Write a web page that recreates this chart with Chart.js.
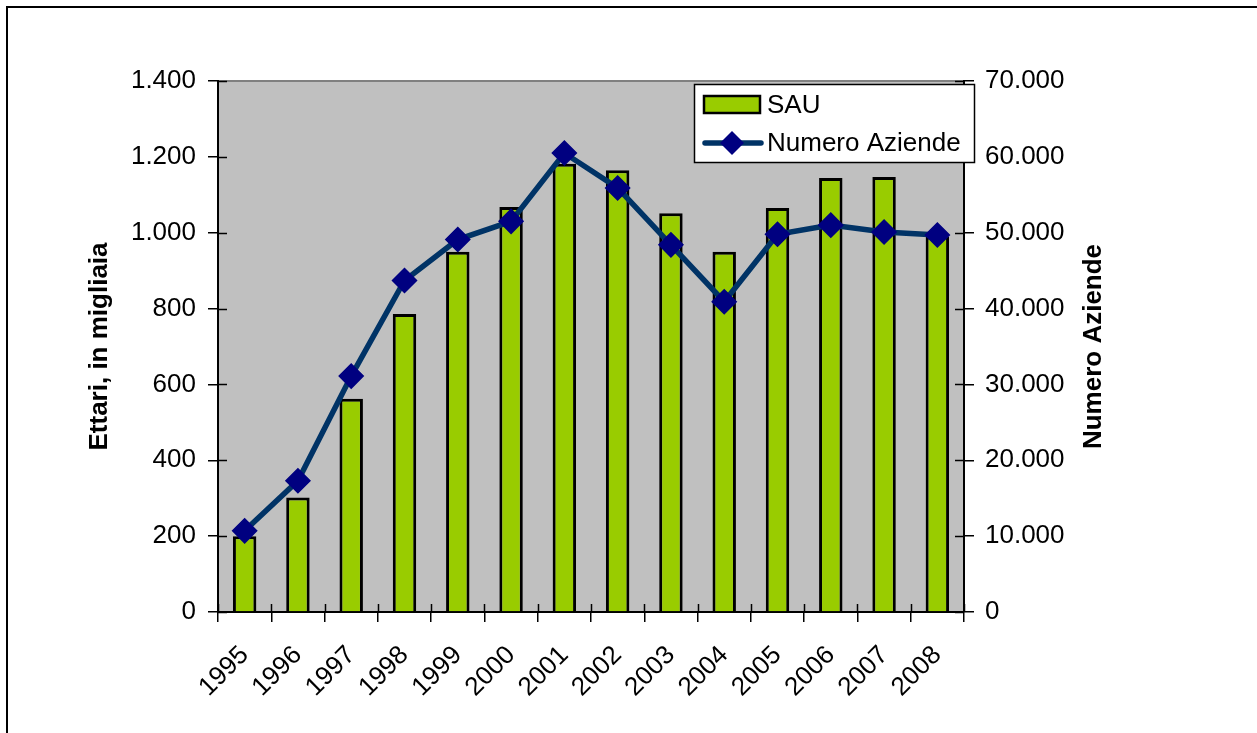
<!DOCTYPE html>
<html>
<head>
<meta charset="utf-8">
<title>SAU e Numero Aziende</title>
<script src="https://cdn.jsdelivr.net/npm/chart.js@4.4.1/dist/chart.umd.min.js"></script>
<style>
  html, body { margin: 0; padding: 0; background: #fff; }
  #wrap { position: relative; width: 1257px; height: 733px; overflow: hidden; }
</style>
</head>
<body>
<div id="wrap"><canvas id="c" width="1257" height="733"></canvas></div>
<script>
// dati
const anni = ['1995', '1996', '1997', '1998', '1999', '2000', '2001', '2002', '2003', '2004', '2005', '2006', '2007', '2008'];
const sau = [200, 302, 562, 786, 950, 1068, 1182, 1165, 1051, 950, 1065, 1144, 1147, 990];          // ettari, migliaia
const aziende = [10700, 17300, 31100, 43700, 49100, 51500, 60500, 55900, 48400, 40900, 49800, 51000, 50100, 49700];
const ticksSau = { min: 0, max: 1400, step: 200 };
const ticksAziende = { min: 0, max: 70000, step: 10000 };

const FONT = "'Liberation Sans', Arial, sans-serif";
const VERDE = '#99CC00', LINEA = '#003366', MARKER = '#000080';
const fmt = (v) => String(v).replace(/\B(?=(\d{3})+(?!\d))/g, '.');

Chart.defaults.font.family = FONT;
Chart.defaults.font.size = 26;
Chart.defaults.color = '#000';

function diamond(ctx, x, y, r, fill) {
  ctx.beginPath();
  ctx.moveTo(x - r, y); ctx.lineTo(x, y - r); ctx.lineTo(x + r, y); ctx.lineTo(x, y + r);
  ctx.closePath();
  ctx.fillStyle = fill; ctx.fill();
}

// sfondo grigio, cornice, tacche interne, legenda e titoli assi
const excelLook = {
  id: 'excelLook',
  beforeDraw(chart) {
    const { ctx, chartArea: a } = chart;
    ctx.save();
    ctx.fillStyle = '#fff';
    ctx.fillRect(0, 0, chart.width, chart.height);
    ctx.strokeStyle = '#000'; ctx.lineWidth = 2;
    ctx.beginPath(); ctx.moveTo(7, chart.height + 5); ctx.lineTo(7, 7); ctx.lineTo(chart.width + 5, 7); ctx.stroke();
    ctx.fillStyle = '#C0C0C0';
    ctx.fillRect(a.left, a.top, a.right - a.left, a.bottom - a.top);
    ctx.strokeStyle = '#808080'; ctx.lineWidth = 2;
    ctx.beginPath(); ctx.moveTo(a.left, a.top); ctx.lineTo(a.right, a.top); ctx.stroke();
    ctx.restore();
  },
  afterDatasetsDraw(chart) {
    const { ctx, chartArea: a, scales } = chart;
    ctx.save();
    ctx.strokeStyle = '#000'; ctx.lineWidth = 1.5;
    ctx.beginPath();
    scales.y.ticks.forEach((t) => { const p = Math.round(scales.y.getPixelForValue(t.value)) + 0.5; ctx.moveTo(a.left, p); ctx.lineTo(a.left + 9, p); });
    scales.y2.ticks.forEach((t) => { const p = Math.round(scales.y2.getPixelForValue(t.value)) + 0.5; ctx.moveTo(a.right, p); ctx.lineTo(a.right - 9, p); });
    for (let i = 0; i <= anni.length; i++) {
      const p = Math.round(scales.x.getPixelForValue(i - 0.5)) + 0.5;
      ctx.moveTo(p, a.bottom); ctx.lineTo(p, a.bottom - 8);
    }
    ctx.stroke();

    // legenda
    const lx = a.right - 270, ly = a.top + 3;
    ctx.fillStyle = '#fff';
    ctx.fillRect(lx, ly, 281, 79);
    ctx.strokeStyle = '#000'; ctx.lineWidth = 1.5;
    ctx.strokeRect(lx + 0.5, ly + 0.5, 280, 78);
    ctx.fillStyle = VERDE; ctx.fillRect(lx + 10, ly + 12, 56, 17);
    ctx.lineWidth = 2.5; ctx.strokeRect(lx + 10, ly + 12, 56, 17);
    ctx.strokeStyle = LINEA; ctx.lineWidth = 5.5; ctx.lineCap = 'round';
    ctx.beginPath(); ctx.moveTo(lx + 11, ly + 59); ctx.lineTo(lx + 67, ly + 59); ctx.stroke();
    diamond(ctx, lx + 38, ly + 59, 12, MARKER);
    ctx.fillStyle = '#000'; ctx.font = '26px ' + FONT; ctx.textBaseline = 'middle'; ctx.textAlign = 'left';
    ctx.fillText('SAU', lx + 73, ly + 22);
    ctx.fillText('Numero Aziende', lx + 73, ly + 60);
    ctx.restore();
  },
  afterDraw(chart) {
    const { ctx, chartArea: a } = chart;
    const cy = (a.top + a.bottom) / 2;
    ctx.save();
    ctx.fillStyle = '#000'; ctx.font = 'bold 26px ' + FONT;
    ctx.textAlign = 'center'; ctx.textBaseline = 'middle';
    [[100, 'Ettari, in migliaia'], [1094, 'Numero Aziende']].forEach(([x, t]) => {
      ctx.save(); ctx.translate(x, cy); ctx.rotate(-Math.PI / 2); ctx.fillText(t, 0, 0); ctx.restore();
    });
    ctx.restore();
  }
};

const assePiccolo = { color: '#000', lineWidth: 1.5, drawOnChartArea: false, drawTicks: true, tickLength: 10, tickColor: '#000', tickWidth: 1.5 };

new Chart(document.getElementById('c'), {
  data: {
    labels: anni,
    datasets: [
      { type: 'line', label: 'Numero Aziende', data: aziende, yAxisID: 'y2', order: 0,
        borderColor: LINEA, borderWidth: 5.5, tension: 0, pointStyle: 'rectRot', pointRadius: 12,
        pointBackgroundColor: MARKER, pointBorderColor: MARKER, pointBorderWidth: 1.5 },
      { type: 'bar', label: 'SAU', data: sau, yAxisID: 'y', order: 1,
        backgroundColor: VERDE, borderColor: '#000', borderWidth: 3,
        barPercentage: 0.44, categoryPercentage: 1 }
    ]
  },
  options: {
    responsive: false,
    animation: false,
    layout: { padding: { top: 81, left: 0, right: 0, bottom: 0 } },
    plugins: { legend: { display: false }, tooltip: { enabled: false } },
    scales: {
      x: {
        offset: true,
        grid: { ...assePiccolo, offset: true },
        border: { display: true, color: '#000', width: 2 },
        ticks: { autoSkip: false, minRotation: 45, maxRotation: 45, padding: 18 },
        afterFit: (s) => { s.height = 121; }
      },
      y: {
        position: 'left', min: ticksSau.min, max: ticksSau.max,
        grid: assePiccolo,
        border: { display: true, color: '#000', width: 2 },
        ticks: { stepSize: ticksSau.step, padding: 12, callback: fmt },
        afterFit: (s) => { s.width = 218; }
      },
      y2: {
        position: 'right', min: ticksAziende.min, max: ticksAziende.max,
        grid: assePiccolo,
        border: { display: true, color: '#000', width: 2 },
        ticks: { stepSize: ticksAziende.step, padding: 11, callback: fmt },
        afterFit: (s) => { s.width = 293; }
      }
    }
  },
  plugins: [excelLook]
});
</script>
</body>
</html>
